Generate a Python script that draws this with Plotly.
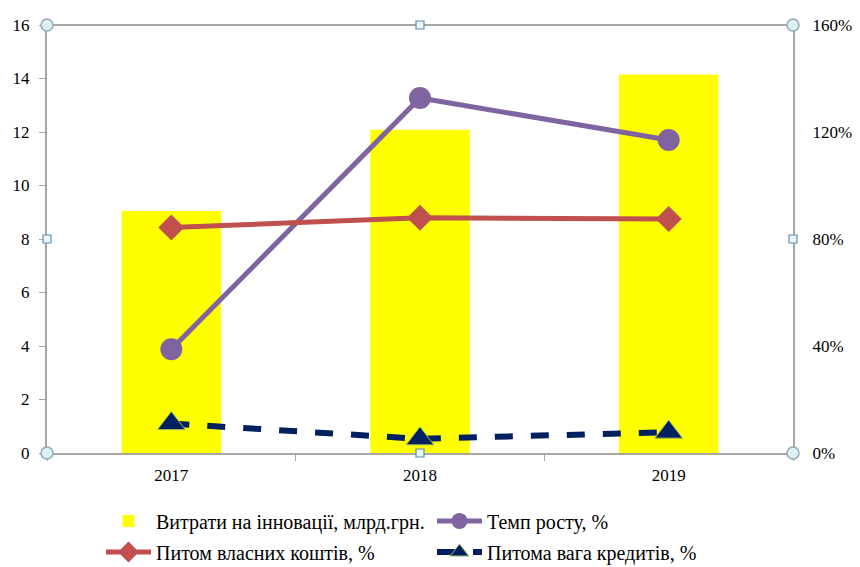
import plotly.graph_objects as go

years = ["2017", "2018", "2019"]
spending = [9.05, 12.08, 14.15]          # млрд грн
growth = [38.8, 132.7, 117.0]            # %
own_share = [84.3, 87.9, 87.5]           # %
credit_share = [11.0, 5.3, 7.8]          # %

left_ticks = [0, 2, 4, 6, 8, 10, 12, 14, 16]
right_ticks = [0, 40, 80, 120, 160]
right_labels = ["0%", "40%", "80%", "120%", "160%"]

font_family = "Liberation Serif"
axis_col = "#A6A6A6"

fig = go.Figure()
fig.add_trace(go.Bar(x=years, y=spending, name="Витрати на інновації, млрд.грн.",
                     marker=dict(color="#FFFF00", line=dict(width=0)), width=0.4, yaxis="y",
                     legend="legend"))
fig.add_trace(go.Scatter(x=years, y=growth, name="Темп росту, %", yaxis="y2",
                         mode="lines+markers", line=dict(color="#8064A2", width=5),
                         marker=dict(symbol="circle", size=22, color="#8064A2"),
                         legend="legend"))
fig.add_trace(go.Scatter(x=years, y=own_share, name="Питом власних коштів, %", yaxis="y2",
                         mode="lines+markers", line=dict(color="#C0504D", width=5),
                         marker=dict(symbol="diamond", size=20, color="#C0504D"),
                         legend="legend2"))
fig.add_trace(go.Scatter(x=years, y=credit_share, name="Питома вага кредитів, %", yaxis="y2",
                         mode="lines+markers", line=dict(color="#002060", width=6, dash="dash"),
                         marker=dict(symbol="triangle-up", size=24, color="#002060",
                                     line=dict(color="#9BBB59", width=1)),
                         legend="legend2"))

# selection frame handles (circles at corners, squares at midpoints)
shapes = [dict(type="line", xref="paper", yref="paper", x0=0, x1=1, y0=1, y1=1,
               line=dict(color=axis_col, width=2))]
for (px, py) in [(0, 0), (1, 0), (0, 1), (1, 1)]:
    shapes.append(dict(type="circle", xref="paper", yref="paper", xsizemode="pixel", ysizemode="pixel",
                       xanchor=px, yanchor=py, x0=-6, x1=6, y0=-6, y1=6,
                       fillcolor="#DDF0F5", line=dict(color="#8DA9B8", width=1.5)))
for (px, py) in [(0.5, 0), (0.5, 1), (0, 0.5), (1, 0.5)]:
    shapes.append(dict(type="rect", xref="paper", yref="paper", xsizemode="pixel", ysizemode="pixel",
                       xanchor=px, yanchor=py, x0=-4, x1=4, y0=-4, y1=4,
                       fillcolor="#EAF6FA", line=dict(color="#5B8FB0", width=1.2)))

leg_common = dict(orientation="h", xref="container", yref="container", xanchor="left",
                  yanchor="middle", entrywidth=271, entrywidthmode="pixels", itemwidth=45,
                  font=dict(family=font_family, size=20, color="#000000"),
                  bgcolor="rgba(0,0,0,0)", traceorder="normal")

fig.update_layout(
    width=860, height=567,
    margin=dict(l=47, r=67, t=25, b=114, autoexpand=False),
    paper_bgcolor="white", plot_bgcolor="white",
    font=dict(family=font_family, size=17, color="#000000"),
    showlegend=True,
    legend=dict(**leg_common, x=101 / 860, y=(567 - 521) / 567),
    legend2=dict(**leg_common, x=101 / 860, y=(567 - 552) / 567),
    xaxis=dict(type="category", showgrid=False, showline=True, linecolor=axis_col, linewidth=2,
               ticks="outside", tickson="boundaries", ticklen=6, tickcolor=axis_col,
               automargin=False, ticklabelstandoff=6, tickfont=dict(size=17, family=font_family)),
    yaxis=dict(range=[0, 16], tickvals=left_ticks, showgrid=False, showline=True,
               linecolor=axis_col, linewidth=2, ticks="outside", ticklen=6, tickcolor=axis_col,
               automargin=False, ticklabelstandoff=6, zeroline=False,
               tickfont=dict(size=17, family=font_family)),
    yaxis2=dict(range=[0, 160], overlaying="y", side="right", tickvals=right_ticks,
                ticktext=right_labels, showgrid=False, showline=True, linecolor=axis_col,
                linewidth=2, ticks="", zeroline=False, ticklabelstandoff=14, automargin=False,
                tickfont=dict(size=17, family=font_family)),
    shapes=shapes,
)

fig.write_html("out.html")
